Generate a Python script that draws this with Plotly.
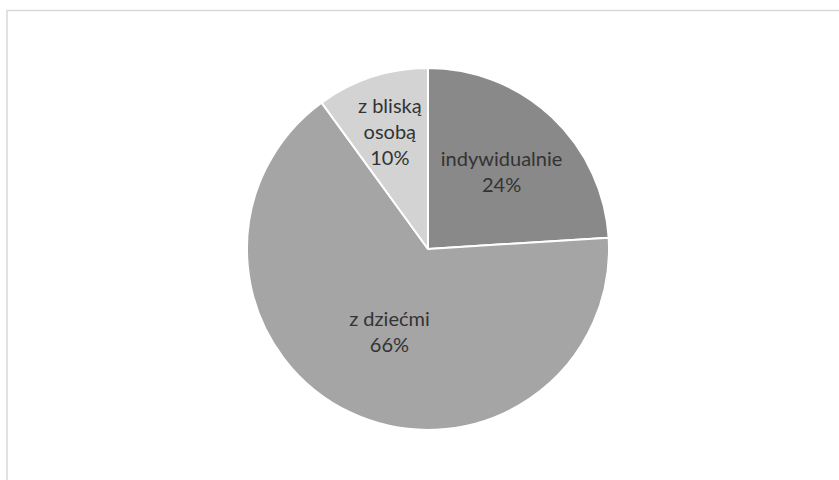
import math
import plotly.graph_objects as go

labels = ["indywidualnie", "z dziećmi", "z bliską osobą"]
display_labels = ["indywidualnie", "z dziećmi", "z bliską<br>osobą"]
values = [24, 66, 10]
colors = ["#898989", "#a5a5a5", "#d3d3d3"]

W, H = 839, 480
cx, cy, r = 428, 249, 181
FONT = dict(family="Lato, Open Sans, sans-serif", size=20, color="#333333")

total = sum(values)
# slices whose label Plotly would shrink get an annotation at the slice's mid-angle instead
small = [v / total < 0.15 for v in values]
templates = ["" if s else "%{text}<br>%{percent:.0%}" for s in small]

fig = go.Figure(go.Pie(
    labels=labels,
    values=values,
    text=display_labels,
    texttemplate=templates,
    textposition="inside",
    insidetextorientation="horizontal",
    sort=False,
    direction="clockwise",
    rotation=0,
    marker=dict(colors=colors, line=dict(color="white", width=2)),
    textfont=FONT,
    showlegend=False,
    hoverinfo="label+percent",
    domain=dict(x=[(cx - r) / W, (cx + r) / W], y=[1 - (cy + r) / H, 1 - (cy - r) / H]),
))

annotations = []
cum = 0
for lab, v, s in zip(display_labels, values, small):
    mid = (cum + v / 2) / total * 2 * math.pi
    cum += v
    if not s:
        continue
    rr = 0.685 * r
    px = cx + rr * math.sin(mid)
    py = cy - rr * math.cos(mid)
    annotations.append(dict(
        x=px / W, y=1 - py / H, xref="paper", yref="paper",
        text=f"{lab}<br>{round(100 * v / total)}%", showarrow=False,
        font=FONT, align="center", xanchor="center", yanchor="middle",
    ))

fig.update_layout(
    width=W, height=H,
    margin=dict(l=0, r=0, t=0, b=0),
    paper_bgcolor="white",
    annotations=annotations,
    shapes=[dict(type="rect", xref="paper", yref="paper",
                 x0=7 / W, x1=1.02, y0=-0.05, y1=1 - 10.5 / H,
                 line=dict(color="#d9d9d9", width=1.5), fillcolor="rgba(0,0,0,0)")],
)

fig.write_html("out.html", config={"displayModeBar": False},
               post_script="document.body.style.margin='0px';")
